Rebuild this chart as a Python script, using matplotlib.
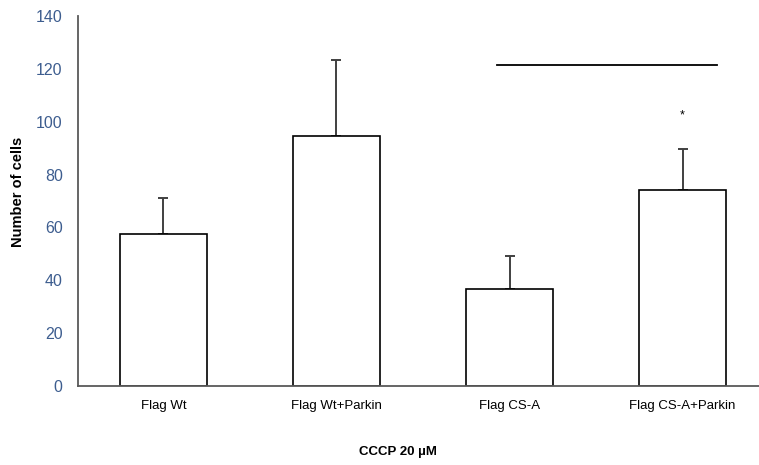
import matplotlib.pyplot as plt

plt.rcParams['font.family'] = ['Liberation Sans', 'DejaVu Sans']

# Данные
labels = ['Flag Wt', 'Flag Wt+Parkin', 'Flag CS-A', 'Flag CS-A+Parkin']
values = [57.4, 94.7, 36.6, 74.0]
errors = [13.9, 28.7, 12.5, 15.8]
sig_line_y = 121.5
sig_line_x = [1.93, 3.2]
star_y = 102.3

fig = plt.figure(figsize=(7.59, 4.65), dpi=100)
ax = fig.add_axes([78 / 759, 1 - 386 / 465, 1 - 78 / 759, (386 - 16) / 465])

x = list(range(len(labels)))
ax.bar(x, values, width=0.5, color='white', edgecolor='black', linewidth=1.2, zorder=2)
ax.errorbar(x, values, yerr=[[0] * len(errors), errors], fmt='none',
            ecolor='#404040', elinewidth=1.4, capsize=3.5, capthick=1.4, zorder=1)

# Линия значимости и звёздочка
ax.plot(sig_line_x, [sig_line_y, sig_line_y], color='black', linewidth=1.3)
ax.text(x[3], star_y, '*', ha='center', va='center', fontsize=9)

ax.set_xlim(-0.494, 3.442)
ax.set_ylim(0, 140)
ax.set_yticks(range(0, 141, 20))
ax.set_xticks(x)
ax.set_xticklabels(labels, fontsize=9.5)
ax.tick_params(axis='y', length=0, pad=11, labelsize=11.5, labelcolor='#3d5d8f')
ax.tick_params(axis='x', length=0, pad=10)

for s in ['top', 'right']:
    ax.spines[s].set_visible(False)
for s in ['left', 'bottom']:
    ax.spines[s].set_color('#595959')
    ax.spines[s].set_linewidth(1.3)

fig.text(18 / 759, 1 - 192 / 465, 'Number of cells', rotation=90, ha='center',
         va='center', fontsize=10.5, fontweight='bold')
fig.text(398 / 759, 1 - 452 / 465, 'CCCP 20 µM', ha='center', va='center',
         fontsize=9.5, fontweight='bold')

plt.savefig('out.png', dpi=100, facecolor='white')
